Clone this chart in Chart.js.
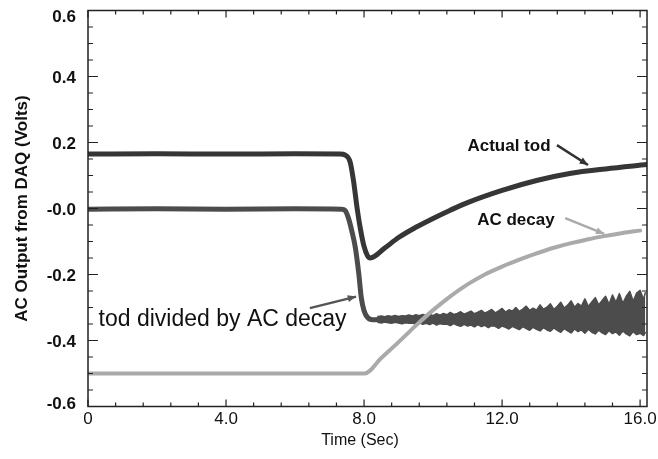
<!DOCTYPE html>
<html>
<head>
<meta charset="utf-8">
<script src="https://cdn.jsdelivr.net/npm/chart.js@4"></script>
<style>
  html, body { margin: 0; padding: 0; background: #fff; }
  #wrap { width: 658px; height: 459px; position: relative; }
</style>
</head>
<body>
<div id="wrap"><canvas id="chart"></canvas></div>
<script>
// --- data ---
const timeActual = [0, 2, 4, 6, 7.3, 7.45, 7.6, 7.7, 7.8, 7.9, 8.0, 8.1, 8.18, 8.6, 9.0, 9.5, 10.0, 10.5, 11.0, 12.0, 13.0, 14.0, 15.0, 16.2];
const actualTod  = [0.165, 0.166, 0.165, 0.166, 0.165, 0.162, 0.14, 0.08, 0.0, -0.065, -0.115, -0.143, -0.15, -0.12, -0.088, -0.057, -0.03, -0.005, 0.018, 0.055, 0.085, 0.107, 0.12, 0.133];

const timeDivided = [0, 2, 4, 6, 7.35, 7.45, 7.55, 7.65, 7.75, 7.85, 7.92, 8.0, 8.1, 8.25, 8.5];
const todDivided  = [-0.002, -0.001, -0.002, -0.001, -0.002, -0.006, -0.03, -0.07, -0.12, -0.2, -0.27, -0.31, -0.33, -0.337, -0.336];

// noisy part after the drop: upper / lower edge of the band
const timeBand = [
    8.4, 8.5, 8.6, 8.7, 8.8, 8.9, 9.0, 9.1, 9.2, 9.3,
    9.4, 9.5, 9.6, 9.7, 9.8, 9.9, 10.0, 10.1, 10.2, 10.3,
    10.4, 10.5, 10.6, 10.7, 10.8, 10.9, 11.0, 11.1, 11.2, 11.3,
    11.4, 11.5, 11.6, 11.7, 11.8, 11.9, 12.0, 12.1, 12.2, 12.3,
    12.4, 12.5, 12.6, 12.7, 12.8, 12.9, 13.0, 13.1, 13.2, 13.3,
    13.4, 13.5, 13.6, 13.7, 13.8, 13.9, 14.0, 14.1, 14.2, 14.3,
    14.4, 14.5, 14.6, 14.7, 14.8, 14.9, 15.0, 15.1, 15.2, 15.3,
    15.4, 15.5, 15.6, 15.7, 15.8, 15.9, 16.0, 16.1, 16.15];
const bandUpper = [
    -0.327, -0.326, -0.328, -0.325, -0.327, -0.324, -0.327, -0.325, -0.326, -0.323,
    -0.326, -0.322, -0.325, -0.321, -0.324, -0.320, -0.325, -0.319, -0.323, -0.318,
    -0.322, -0.315, -0.321, -0.318, -0.313, -0.320, -0.316, -0.311, -0.319, -0.314,
    -0.309, -0.317, -0.312, -0.306, -0.316, -0.310, -0.303, -0.314, -0.307, -0.311,
    -0.300, -0.312, -0.305, -0.296, -0.309, -0.302, -0.308, -0.292, -0.305, -0.299,
    -0.289, -0.306, -0.296, -0.284, -0.302, -0.293, -0.280, -0.299, -0.288, -0.296,
    -0.274, -0.297, -0.283, -0.270, -0.292, -0.279, -0.266, -0.290, -0.262, -0.284,
    -0.258, -0.287, -0.266, -0.251, -0.281, -0.256, -0.248, -0.276, -0.255];
const bandLower = [
    -0.345, -0.347, -0.344, -0.346, -0.348, -0.345, -0.347, -0.349, -0.346, -0.348,
    -0.347, -0.350, -0.346, -0.351, -0.348, -0.352, -0.347, -0.353, -0.349, -0.351,
    -0.350, -0.355, -0.349, -0.354, -0.357, -0.351, -0.356, -0.353, -0.359, -0.352,
    -0.358, -0.354, -0.361, -0.355, -0.357, -0.363, -0.356, -0.360, -0.365, -0.357,
    -0.362, -0.367, -0.358, -0.364, -0.369, -0.360, -0.366, -0.371, -0.361, -0.368,
    -0.372, -0.362, -0.369, -0.375, -0.364, -0.371, -0.377, -0.365, -0.373, -0.368,
    -0.378, -0.366, -0.375, -0.380, -0.369, -0.377, -0.382, -0.370, -0.379, -0.374,
    -0.384, -0.371, -0.380, -0.386, -0.373, -0.382, -0.378, -0.385, -0.376];

const timeDecay = [0, 4, 8.02, 8.5, 9.0, 9.5, 10.0, 10.5, 11.0, 11.5, 12.0, 12.5, 13.0, 13.5, 14.0, 14.5, 15.0, 15.5, 16.0];
const acDecay   = [-0.5, -0.5, -0.5, -0.453, -0.405, -0.355, -0.308, -0.266, -0.23, -0.2, -0.176, -0.155, -0.136, -0.119, -0.105, -0.093, -0.083, -0.074, -0.067];

const xTicks = [0, 4, 8, 12, 16];
const xTickLabels = ['0', '4.0', '8.0', '12.0', '16.0'];
const yTicks = [-0.6, -0.4, -0.2, 0, 0.2, 0.4, 0.6];
const yTickLabels = ['-0.6', '-0.4', '-0.2', '-0.0', '0.2', '0.4', '0.6'];

const notes = [
    { text: 'Actual tod', x: 12.2, y: 0.189, font: 'bold 17px "Liberation Sans"' },
    { text: 'AC decay', x: 12.4, y: -0.035, font: 'bold 17px "Liberation Sans"' },
    { text: 'tod divided by AC decay', x: 3.9, y: -0.338, font: '23px "Liberation Sans"' }
];
const arrows = [
    { from: [13.59, 0.192], to: [14.49, 0.132], color: '#333' },
    { from: [13.83, -0.029], to: [14.96, -0.077], color: '#aaa' },
    { from: [6.43, -0.302], to: [7.77, -0.267], color: '#555' }
];

const toPts = (xs, ys) => xs.map((x, i) => ({ x: x, y: ys[i] }));

// frame, inward ticks, tick labels, titles, notes
const framePlugin = {
    id: 'frame',
    afterDatasetsDraw(chart) {
        const ctx = chart.ctx;
        const a = chart.chartArea;
        const xs = chart.scales.x, ys = chart.scales.y;
        ctx.save();

        ctx.strokeStyle = '#222';
        ctx.lineWidth = 1.5;
        ctx.strokeRect(a.left, a.top, a.right - a.left, a.bottom - a.top);

        ctx.lineWidth = 1.2;
        ctx.beginPath();
        for (let v = 0; v <= 16.001; v += 0.8) {
            const px = xs.getPixelForValue(v);
            const major = Math.abs(v / 4 - Math.round(v / 4)) < 0.001;
            const len = major ? 7 : 4;
            ctx.moveTo(px, a.bottom); ctx.lineTo(px, a.bottom - len);
            ctx.moveTo(px, a.top); ctx.lineTo(px, a.top + len);
        }
        for (let i = 0; i <= 24; i++) {
            const v = -0.6 + i * 0.05;
            const py = ys.getPixelForValue(v);
            const len = (i % 4 === 0) ? 10 : 5;
            ctx.moveTo(a.left, py); ctx.lineTo(a.left + len, py);
            ctx.moveTo(a.right, py); ctx.lineTo(a.right - len, py);
        }
        ctx.stroke();

        ctx.fillStyle = '#111';
        ctx.font = 'bold 17px "Liberation Sans"';
        ctx.textAlign = 'right';
        ctx.textBaseline = 'middle';
        yTicks.forEach((v, i) => {
            const py = Math.min(Math.max(ys.getPixelForValue(v) + 2, a.top + 7), a.bottom - 2);
            ctx.fillText(yTickLabels[i], a.left - 12, py);
        });
        ctx.font = '17px "Liberation Sans"';
        ctx.textAlign = 'center';
        ctx.textBaseline = 'top';
        xTicks.forEach((v, i) => {
            ctx.fillText(xTickLabels[i], xs.getPixelForValue(v), a.bottom + 4);
        });

        ctx.font = '16px "Liberation Sans"';
        ctx.textBaseline = 'middle';
        ctx.fillText('Time (Sec)', 360, 441);

        ctx.save();
        ctx.translate(22, (a.top + a.bottom) / 2);
        ctx.rotate(-Math.PI / 2);
        ctx.font = 'bold 17px "Liberation Sans"';
        ctx.fillText('AC Output from DAQ (Volts)', 0, 0);
        ctx.restore();

        notes.forEach(n => {
            ctx.font = n.font;
            ctx.fillText(n.text, xs.getPixelForValue(n.x), ys.getPixelForValue(n.y));
        });

        arrows.forEach(ar => {
            const x0 = xs.getPixelForValue(ar.from[0]), y0 = ys.getPixelForValue(ar.from[1]);
            const x1 = xs.getPixelForValue(ar.to[0]), y1 = ys.getPixelForValue(ar.to[1]);
            const ang = Math.atan2(y1 - y0, x1 - x0);
            ctx.strokeStyle = ar.color;
            ctx.fillStyle = ar.color;
            ctx.lineWidth = 2.5;
            ctx.beginPath();
            ctx.moveTo(x0, y0); ctx.lineTo(x1, y1);
            ctx.stroke();
            ctx.beginPath();
            ctx.moveTo(x1, y1);
            ctx.lineTo(x1 - 9 * Math.cos(ang - 0.4), y1 - 9 * Math.sin(ang - 0.4));
            ctx.lineTo(x1 - 9 * Math.cos(ang + 0.4), y1 - 9 * Math.sin(ang + 0.4));
            ctx.closePath();
            ctx.fill();
        });
        ctx.restore();
    }
};

new Chart(document.getElementById('chart'), {
    type: 'line',
    data: {
        datasets: [
            { label: 'AC decay', data: toPts(timeDecay, acDecay), borderColor: '#aaaaaa', borderWidth: 4, cubicInterpolationMode: 'monotone' },
            { label: 'Actual tod', data: toPts(timeActual, actualTod), borderColor: '#363636', borderWidth: 5, cubicInterpolationMode: 'monotone' },
            { label: 'tod divided', data: toPts(timeDivided, todDivided), borderColor: '#4c4c4c', borderWidth: 5, cubicInterpolationMode: 'monotone' },
            { label: 'band upper', data: toPts(timeBand, bandUpper), borderColor: '#4c4c4c', backgroundColor: '#4c4c4c', borderWidth: 1.5, fill: '+1' },
            { label: 'band lower', data: toPts(timeBand, bandLower), borderColor: '#4c4c4c', borderWidth: 1.5, fill: false }
        ]
    },
    options: {
        responsive: true,
        maintainAspectRatio: false,
        animation: false,
        layout: { padding: { left: 88, top: 10.5, right: 11, bottom: 52.5 } },
        elements: { point: { radius: 0 }, line: { borderCapStyle: 'round', borderJoinStyle: 'round' } },
        scales: {
            x: { type: 'linear', min: 0, max: 16.2, display: false },
            y: { type: 'linear', min: -0.6, max: 0.6, display: false }
        },
        plugins: { legend: { display: false }, tooltip: { enabled: false } }
    },
    plugins: [framePlugin]
});
</script>
</body>
</html>
